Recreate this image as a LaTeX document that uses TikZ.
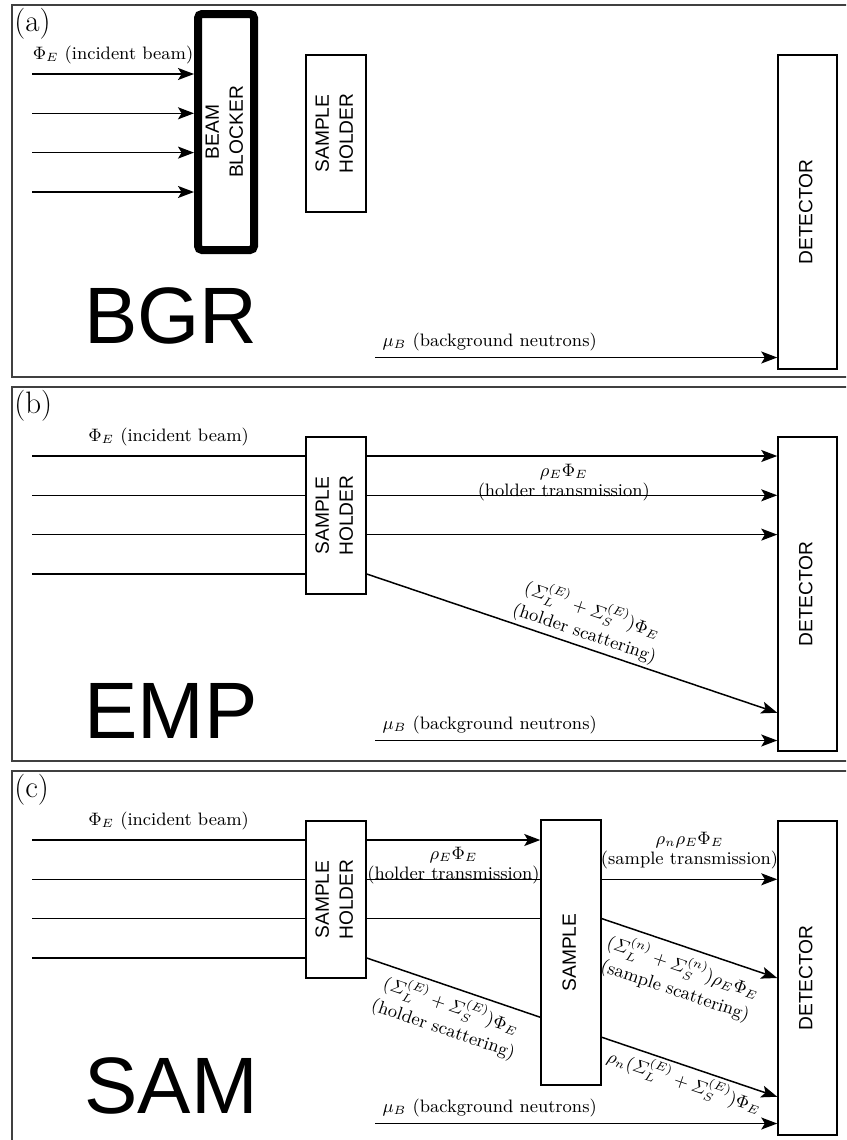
\documentclass[tikz,border=0pt]{standalone}
\usepackage{amsmath}
\usepackage{fontspec}
\newfontfamily\sansbox{Liberation Sans}
\usetikzlibrary{positioning,arrows.meta,calc}
\newcommand{\vtxt}[1]{\rotatebox{90}{\begin{tabular}{@{}c@{}}#1\end{tabular}}}
\tikzset{
  panel/.style={draw=black!75, line width=0.9pt},
  box/.style={draw, line width=0.75pt, inner sep=0pt, font=\sansbox\fontsize{9.6}{12}\selectfont},
  blk/.style={box, line width=4pt, rounded corners=2pt},
  bm/.style={line width=0.75pt},
  ar/.style={bm, -{Stealth[length=8pt,width=6pt,inset=1.8pt]}},
  lbl/.style={font=\fontsize{9}{10}\selectfont, align=center, inner sep=1.5pt},
  tag/.style={font=\fontsize{15.5}{18}\selectfont, anchor=north west, inner sep=0pt},
  big/.style={font=\sansbox\fontsize{40}{40}\selectfont, anchor=base, inner sep=0pt},
}

\begin{document}
\begin{tikzpicture}[x=0.5pt, y=-0.5pt]
\useasboundingbox (0,0) rectangle (846,1140);
\clip (0,0) rectangle (846,1140);

% (a) background
\begin{scope}[shift={(0,5)}]
\draw[panel] (12,0) rectangle (880,372);
\node[tag] at (14,3) {(a)};
\node[blk, minimum width=28pt, minimum height=118pt] (blka) at (226,127) {\vtxt{BEAM\\BLOCKER}};
\node[box, minimum width=30pt, minimum height=78.5pt] (hlda) at (336,128.5) {\vtxt{SAMPLE\\HOLDER}};
\node[box, minimum width=29.5pt, minimum height=157pt] (deta) at (807.5,207) {\vtxt{DETECTOR}};
\foreach \k/\y in {1/69,2/108.3,3/147.6,4/187}
  \coordinate (ina\k) at (32,\y);
\draw[ar] (ina1) -- node[lbl, above=3pt] {$\Phi_E$ (incident beam)} (ina1 -| blka.west);
\foreach \k in {2,3,4}
  \draw[ar] (ina\k) -- (ina\k -| blka.west);
\coordinate (bga) at (375,352.5);
\draw[ar] (bga) -- node[lbl, above=1.5pt, pos=0.285] {$\mu_B$ (background neutrons)} (bga -| deta.west);
\node[big] (nma) at (171,338) {BGR};
\end{scope}

% (b) empty holder
\begin{scope}[shift={(0,387)}]
\draw[panel] (12,0) rectangle (880,374);
\node[tag] at (14,3) {(b)};
\node[box, minimum width=30pt, minimum height=78.5pt] (hldb) at (336,128.5) {\vtxt{SAMPLE\\HOLDER}};
\node[box, minimum width=29.5pt, minimum height=157pt] (detb) at (807.5,207) {\vtxt{DETECTOR}};
\foreach \k/\y in {1/69,2/108.3,3/147.6,4/187}
  \coordinate (inb\k) at (32,\y);
\draw[bm] (inb1) -- node[lbl, above=3pt] {$\Phi_E$ (incident beam)} (inb1 -| hldb.west);
\foreach \k in {2,3,4}
  \draw[bm] (inb\k) -- (inb\k -| hldb.west);
\draw[ar] (inb1 -| hldb.east) -- node[lbl, below=2pt, pos=0.48] {$\rho_E\Phi_E$\\(holder transmission)} (inb1 -| detb.west);
\foreach \k in {2,3}
  \draw[ar] (inb\k -| hldb.east) -- (inb\k -| detb.west);
\draw[ar] (inb4 -| hldb.east) -- node[lbl, sloped, above=0pt, pos=0.52] {$(\varSigma_L^{(E)}+\varSigma_S^{(E)})\Phi_E$\\[2pt](holder scattering)} ($(detb.south west)+(0,-39)$);
\coordinate (bgb) at (375,353.5);
\draw[ar] (bgb) -- node[lbl, above=1.5pt, pos=0.285] {$\mu_B$ (background neutrons)} (bgb -| detb.west);
\node[big] (nmb) at (171,351) {EMP};
\end{scope}

% (c) sample in holder
\begin{scope}[shift={(0,771)}]
\draw[panel] (12,0) rectangle (880,380);
\node[tag] at (14,3) {(c)};
\node[box, minimum width=30pt, minimum height=78.5pt] (hldc) at (336,128.5) {\vtxt{SAMPLE\\HOLDER}};
\node[box, minimum width=30pt, minimum height=132.5pt] (smpc) at (571,181.5) {\vtxt{SAMPLE}};
\node[box, minimum width=29.5pt, minimum height=157pt] (detc) at (807.5,207) {\vtxt{DETECTOR}};
\foreach \k/\y in {1/69,2/108.3,3/147.6,4/187}
  \coordinate (inc\k) at (32,\y);
\draw[bm] (inc1) -- node[lbl, above=3pt] {$\Phi_E$ (incident beam)} (inc1 -| hldc.west);
\foreach \k in {2,3,4}
  \draw[bm] (inc\k) -- (inc\k -| hldc.west);
\draw[ar] (inc1 -| hldc.east) -- node[lbl, below=1.5pt] {$\rho_E\Phi_E$\\(holder transmission)} (inc1 -| smpc.west);
\foreach \k in {2,3}
  \draw[bm] (inc\k -| hldc.east) -- (inc\k -| smpc.west);
\draw[bm] (inc4 -| hldc.east) -- node[lbl, sloped, below=1pt, pos=0.52] {$(\varSigma_L^{(E)}+\varSigma_S^{(E)})\Phi_E$\\[2pt](holder scattering)} ($(smpc.south west)+(0,-68.5)$);
\draw[ar] (inc2 -| smpc.east) -- node[lbl, above=3.5pt] {$\rho_n\rho_E\Phi_E$\\(sample transmission)} (inc2 -| detc.west);
\draw[ar] (inc3 -| smpc.east) -- node[lbl, sloped, below=2pt] {$(\varSigma_L^{(n)}+\varSigma_S^{(n)})\rho_E\Phi_E$\\[2pt](sample scattering)} (detc.west);
\draw[ar] ($(smpc.south east)+(0,-48.5)$) -- node[lbl, sloped, below] {$\rho_n(\varSigma_L^{(E)}+\varSigma_S^{(E)})\Phi_E$} ($(detc.south west)+(0,-39)$);
\coordinate (bgc) at (375,352.5);
\draw[ar] (bgc) -- node[lbl, above=1.5pt, pos=0.285] {$\mu_B$ (background neutrons)} (bgc -| detc.west);
\node[big] (nmc) at (171,342) {SAM};
\end{scope}
\end{tikzpicture}
\end{document}
